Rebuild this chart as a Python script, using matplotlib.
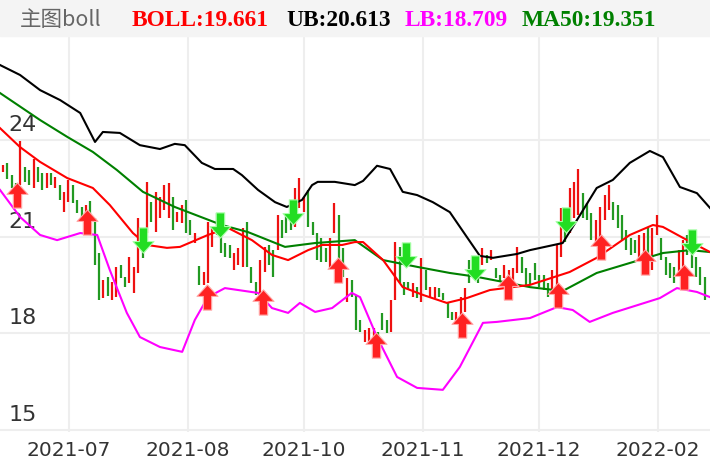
import matplotlib
matplotlib.use("Agg")
import matplotlib.pyplot as plt
from matplotlib.path import Path
import numpy as np

# ---- candle data (top, bottom of body) ----
tops = [23.22,23.3,22.9,22.66,23.97,23.16,23.07,23.4,23.16,22.98,22.98,22.98,22.85,22.6,22.39,22.76,22.6,22.14,21.92,21.98,22.1,21.58,20.5,19.65,19.75,19.59,20.06,20.12,19.75,20.37,20.06,21.58,21.2,22.7,22.07,22.39,22.23,22.6,22.66,
        22.23,21.76,21.98,22.14,21.5,21.11,20.09,19.9,21.45,21.3,21.73,21.11,20.8,20.74,20.49,20.65,21.27,21.45,20.06,19.59,20.27,20.68,20.74,20.58,21.67,21.5,21.67,21.73,22.51,22.82,22.23,22.45,21.45,21.11,20.96,20.65,20.96,22.04,21.67,20.65,19.7,
        19.65,19.19,18.41,18.1,18.16,18.16,18.04,18.63,18.41,19.03,20.83,20.68,19.59,19.59,19.56,19.43,20.34,19.96,19.43,19.43,19.4,19.25,18.94,18.66,18.66,19.12,19.4,20.27,20.12,20.03,20.65,20.43,20.58,20.03,19.81,20.12,19.96,20.03,20.68,20.37,
        20.03,19.87,20.18,19.81,19.81,19.56,19.96,20.74,21.89,21.5,22.51,22.7,23.1,22.35,22.04,21.73,21.5,21.92,22.29,22.6,22.07,21.98,21.67,21.2,20.96,20.9,21.05,21.11,21.3,21.27,21.67,20.96,20.37,20.18,20.06,20.58,20.9,21.05,20.68,20.37,20.06,19.75]
bottoms = [23.0,22.8,22.5,22.29,22.6,22.7,22.6,22.5,22.7,22.45,22.5,22.6,22.5,22.14,21.76,22.07,22.04,21.73,21.6,21.5,21.5,20.12,19.03,19.09,19.15,19.03,19.12,19.72,19.43,19.56,19.25,19.87,20.34,21.11,21.45,21.14,21.58,21.83,21.58,
        21.2,21.45,21.42,21.11,21.05,20.8,19.5,19.5,19.56,20.68,21.05,20.49,20.37,20.34,19.96,20.12,20.06,20.06,19.56,19.19,18.88,19.9,20.12,19.75,20.58,20.96,21.11,21.2,21.3,21.89,21.76,21.3,21.05,20.27,20.21,20.21,19.96,21.11,20.27,19.75,18.97,
        19.12,18.1,18.04,17.73,17.7,17.85,17.85,18.1,18.0,18.04,19.03,19.56,19.19,19.34,19.12,19.09,18.97,19.34,19.12,19.09,19.12,19.03,18.47,18.41,18.25,18.5,18.66,19.56,19.72,19.56,20.12,20.18,20.27,19.72,19.59,19.72,19.59,19.59,19.87,19.87,
        19.5,19.5,19.65,19.43,19.34,19.12,19.25,19.34,20.37,20.83,21.11,21.58,21.67,21.58,21.5,20.9,20.68,20.99,21.5,21.83,21.5,21.27,20.9,20.58,20.43,20.49,20.27,20.27,20.49,19.96,21.05,20.27,19.81,19.72,19.56,19.75,20.06,20.43,20.03,19.75,19.5,19.03]
direction = ("RGGGRGGRGGRGRGRRGGGRGGGRGRRGGRRRGRGRRRR"
             "GRRGGRGRRRGGGGRRRGGGRRGGRGGGRRRGGGGGRRGGR"
             "GGGRRRGGGRRGGGRGRGRRGGGGRRRGGGRGRGGRRRRG"
             "GGGGGGRRRGRRRGGGRRRRGGGGGGRRGRRGGGGRRGGGGG")

# ---- indicator lines (candle index, value) ----
ub_x = [-0.7,3.9,8.5,13.1,17.7,21.1,22.9,26.8,31.4,36,39.4,41.7,45.6,48.6,52.8,54.8,58.5,62.4,65.1,68.6,70.9,72.2,76.1,80.7,82.6,85.8,88.8,91.7,95,98.6,102.5,106.4,109.4,112.4,117.9,120.9,128.4,130.7,136.2,139.9,143.8,148.4,151.4,155.3,159.2,162.2]
ub_y = [26.33,26.02,25.55,25.24,24.84,23.94,24.25,24.22,23.84,23.72,23.88,23.84,23.29,23.10,23.10,22.91,22.45,22.07,21.92,22.14,22.60,22.70,22.70,22.60,22.73,23.20,23.10,22.39,22.29,22.07,21.76,20.99,20.40,20.34,20.46,20.58,20.80,21.30,22.51,22.76,23.29,23.66,23.47,22.54,22.35,21.89]
mid_x = [-0.7,3.9,8.5,14.7,20.6,24.5,29.8,33,37.6,40.6,47,51.6,57.1,61.7,65.4,70,73.2,77.8,80.7,82.6,87.2,91.7,96.3,101.8,106.4,111.7,120.9,130,136.2,143.8,149.1,151.4,156,162.2]
mid_y = [24.37,23.78,23.32,22.82,22.51,21.98,21.11,20.74,20.65,20.68,21.05,21.27,20.89,20.43,20.27,20.58,20.74,20.74,20.83,20.83,20.27,19.43,19.19,18.94,19.09,19.34,19.50,19.90,20.34,21.05,21.36,21.30,20.96,20.52]
ma_x = [-0.7,8.5,14.7,20.6,26.1,32.1,39.4,50.2,56.2,64.7,71.6,80.7,87.2,95,102.5,108.7,120.9,128.4,136.2,143.8,151.4,157.6,162.2]
ma_y = [25.46,24.62,24.10,23.63,23.07,22.39,21.92,21.36,21.14,20.68,20.80,20.89,20.27,20.06,19.87,19.75,19.43,19.31,19.87,20.18,20.49,20.58,20.52]
lb_x = [-0.7,3.9,8.5,12.4,17.7,21.6,24.5,28.4,31.4,36,41.1,44,47,50.9,58.5,61.7,65.4,68.1,71.6,75.5,80,81.9,85.8,90.4,95,100.9,104.8,110.1,113.3,120.9,127.1,130.7,134.6,139.9,150.7,154.6,159.2,162.2]
lb_y = [22.45,21.61,21.05,20.89,21.11,21.05,19.96,18.63,17.88,17.57,17.42,18.41,19.12,19.40,19.25,18.78,18.63,18.94,18.66,18.78,19.25,19.12,17.88,16.64,16.30,16.24,16.95,18.32,18.35,18.47,18.81,18.72,18.35,18.63,19.09,19.40,19.28,19.12]

buy_x = [3.2,19.3,46.8,59.6,76.8,85.6,105.3,115.8,127.3,137.2,147.2,156.2]
buy_y = [22.29,21.45,19.12,18.97,19.96,17.63,18.25,19.43,19.19,20.68,20.21,19.75]
sell_x = [32.1,49.8,66.5,92.4,108.3,129.1,158.0]
sell_y = [20.89,21.36,21.76,20.43,20.03,21.52,20.83]

xtick_pos = [15.1,42.4,69,96.3,122.9,150.2]
xtick_labels = ["2021-07","2021-08","2021-10","2021-11","2021-12","2022-02"]
ytick_vals = [15,18,21,24]

header_labels = ["BOLL:19.661","UB:20.613","LB:18.709","MA50:19.351"]
header_colors = ["#ff0000","#000000","#ff00ff","#008000"]

W, H = 710, 472
fig = plt.figure(figsize=(W/100, H/100), dpi=100)
top_px, bot_px = 37, 432
ax = fig.add_axes([0, 1-bot_px/H, 1, (bot_px-top_px)/H])
ax.set_xlim(-0.7, 162.2)
ax.set_ylim(14.93, 27.2)
for s in ax.spines.values():
    s.set_visible(False)
ax.set_xticks([]); ax.set_yticks([])
for xp in xtick_pos:
    ax.axvline(xp, color="#eeeeee", lw=1.5, zorder=0)
for yv in ytick_vals:
    ax.axhline(yv, color="#eeeeee", lw=1.5, zorder=0)
    ax.text(0.012, yv+0.15, str(yv), transform=ax.get_yaxis_transform(),
            fontsize=16, color="#333333", va="bottom", ha="left")

idx = np.arange(len(tops))
cols = ["#ee1111" if d == "R" else "#229922" for d in direction]
ax.vlines(idx, bottoms, tops, colors=cols, lw=1.6, zorder=2)

ax.plot(ub_x, ub_y, color="black", lw=1.5, zorder=3)
ax.plot(ma_x, ma_y, color="#008000", lw=1.5, zorder=3)
ax.plot(mid_x, mid_y, color="#ff0000", lw=1.5, zorder=3)
ax.plot(lb_x, lb_y, color="#ff00ff", lw=1.5, zorder=3)

up = Path([(-0.5,0.05),(0,0.6),(0.5,0.05),(0.2,0.05),(0.2,-0.6),(-0.2,-0.6),(-0.2,0.05),(-0.5,0.05)],
          [Path.MOVETO]+[Path.LINETO]*6+[Path.CLOSEPOLY])
down = Path([(x,-y) for x,y in up.vertices], up.codes)
ax.scatter(buy_x, buy_y, marker=up, s=330, color="#ff2222", edgecolors="#ffaaaa", linewidths=0.8, zorder=5)
ax.scatter(sell_x, sell_y, marker=down, s=330, color="#22dd22", edgecolors="#aaffaa", linewidths=0.8, zorder=5)

for xp, lab in zip(xtick_pos, xtick_labels):
    fig.text((xp+0.7)/162.9, 1-450/H, lab, ha="center", va="center", fontsize=14.5, color="#333333")

# header
fig.patches.append(plt.Rectangle((0, 1-36/H), 1, 36/H, transform=fig.transFigure, color="#f4f4f4", zorder=0))
fig.text(20/W, 1-20/H, "主图boll", fontsize=15.5, color="#666666", va="center",
         family=["Noto Sans CJK SC", "DejaVu Sans"])
xs = [132, 286, 405, 522]
for xpix, lab, c in zip(xs, header_labels, header_colors):
    fig.text(xpix/W, 1-20/H, lab, fontsize=16.8, color=c, va="center",
             family="Liberation Serif", weight="bold")

fig.savefig("out.png", dpi=100)
